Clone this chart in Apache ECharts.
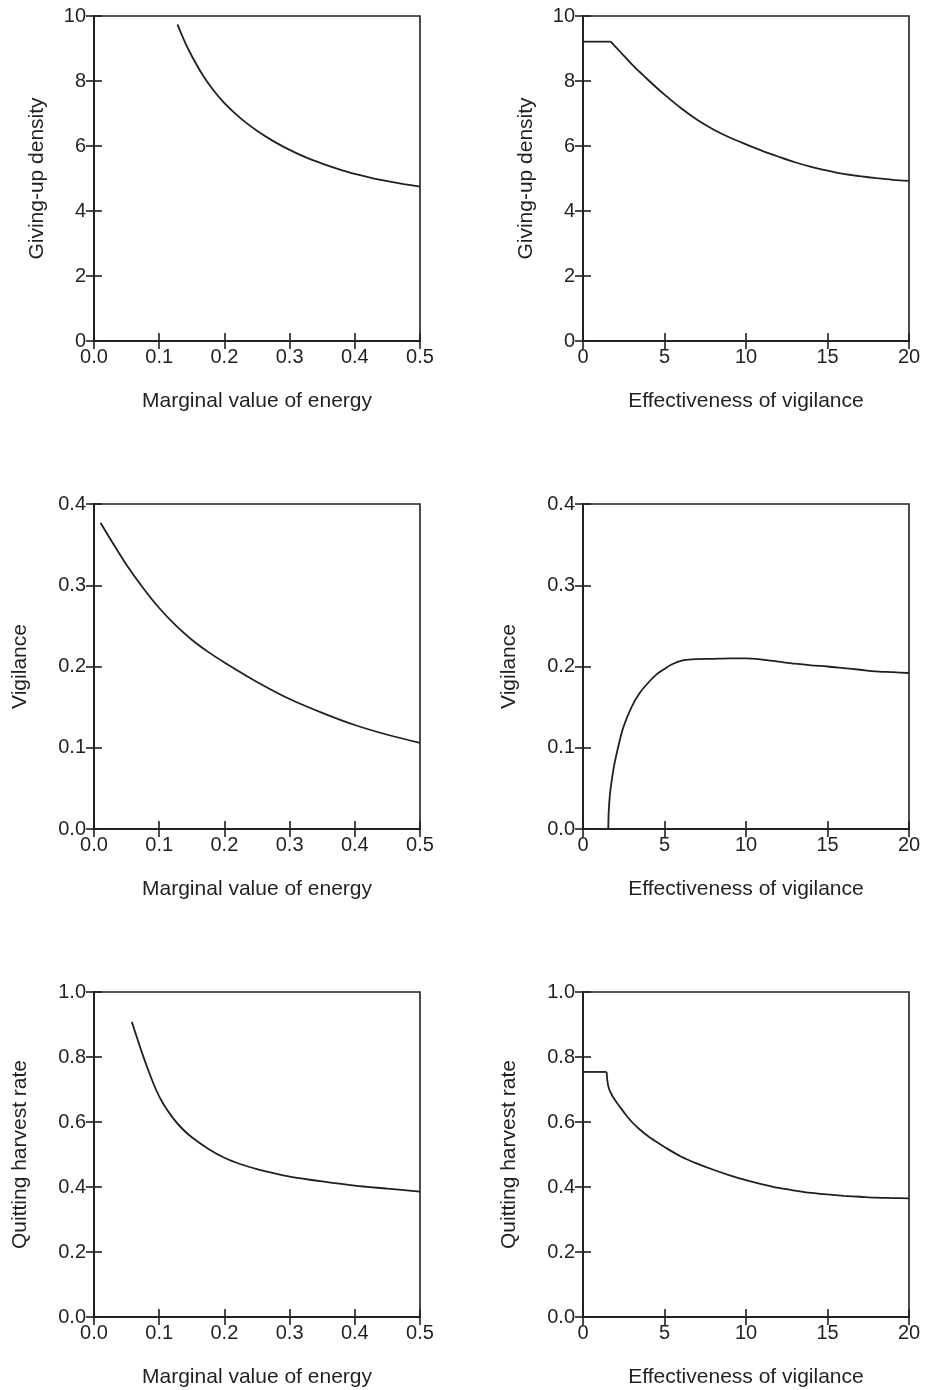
<!DOCTYPE html>
<html>
<head>
<meta charset="utf-8">
<script src="https://cdn.jsdelivr.net/npm/echarts@6/dist/echarts.min.js"></script>
<style>
html,body{margin:0;padding:0;background:#fff;}
#chart{width:926px;height:1390px;}
</style>
</head>
<body>
<div id="chart"></div>
<script>
// ---- Data ----
const energyLabel = 'Marginal value of energy';
const vigLabel = 'Effectiveness of vigilance';

// Panel A: giving-up density vs marginal value of energy
const gudEnergyX = [0.128,0.14,0.15,0.165,0.18,0.2,0.225,0.25,0.275,0.3,0.325,0.35,0.375,0.4,0.425,0.45,0.475,0.5];
const gudEnergyY = [9.74,9.17,8.77,8.24,7.80,7.32,6.85,6.47,6.15,5.88,5.65,5.46,5.29,5.14,5.02,4.92,4.83,4.75];

// Panel B: giving-up density vs effectiveness of vigilance (plateau, then curve)
const gudVigPlateauX = [0,1.7];
const gudVigPlateauY = [9.21,9.21];
const gudVigX = [1.7,2,2.5,3,3.5,4,4.5,5,6,7,8,9,10,11,12,13,14,15,16,17,18,19,20];
const gudVigY = [9.21,9.05,8.78,8.51,8.27,8.03,7.80,7.58,7.17,6.81,6.51,6.26,6.05,5.85,5.67,5.50,5.36,5.24,5.14,5.07,5.01,4.96,4.93];

// Panel C: vigilance vs marginal value of energy
const vigEnergyX = [0.01,0.025,0.05,0.075,0.1,0.125,0.15,0.175,0.2,0.25,0.3,0.35,0.4,0.45,0.5];
const vigEnergyY = [0.377,0.357,0.325,0.297,0.272,0.251,0.233,0.218,0.205,0.181,0.160,0.143,0.128,0.116,0.106];

// Panel D: vigilance vs effectiveness of vigilance
const vigVigX = [1.55,1.58,1.65,1.75,1.9,2.1,2.47,3.0,3.5,4.0,4.5,5.0,5.5,6.0,6.5,7,8,9,10,11,12,13,14,15,16,17,18,19,20];
const vigVigY = [0.0,0.022,0.042,0.058,0.077,0.096,0.125,0.151,0.168,0.180,0.190,0.197,0.203,0.207,0.2085,0.209,0.2095,0.210,0.210,0.2085,0.206,0.2035,0.2015,0.200,0.198,0.196,0.194,0.193,0.192];

// Panel E: quitting harvest rate vs marginal value of energy
const qhrEnergyX = [0.058,0.065,0.075,0.085,0.095,0.105,0.12,0.135,0.15,0.175,0.2,0.225,0.25,0.275,0.3,0.35,0.4,0.45,0.5];
const qhrEnergyY = [0.908,0.865,0.805,0.750,0.700,0.660,0.615,0.580,0.553,0.518,0.490,0.470,0.455,0.443,0.432,0.417,0.404,0.395,0.386];

// Panel F: quitting harvest rate vs effectiveness of vigilance (plateau, then curve)
const qhrVigPlateauX = [0,1.45];
const qhrVigPlateauY = [0.754,0.754];
const qhrVigX = [1.45,1.5,1.58,1.7,1.9,2.2,2.6,3.0,3.5,4.0,4.5,5.0,6,7,8,9,10,11,12,13,14,15,16,17,18,19,20];
const qhrVigY = [0.754,0.725,0.705,0.690,0.672,0.651,0.624,0.600,0.576,0.556,0.539,0.523,0.494,0.472,0.453,0.436,0.421,0.408,0.397,0.389,0.382,0.377,0.373,0.370,0.367,0.366,0.365];

const panels = [
  {curves: [[gudEnergyX, gudEnergyY, true]], xName: energyLabel, yName: 'Giving-up density', xMax: 0.5, xInt: 0.1, yMax: 10, yInt: 2, xDec: 1, yDec: 0, yGap: 46},
  {curves: [[gudVigPlateauX, gudVigPlateauY, false], [gudVigX, gudVigY, true]], xName: vigLabel, yName: 'Giving-up density', xMax: 20, xInt: 5, yMax: 10, yInt: 2, xDec: 0, yDec: 0, yGap: 46},
  {curves: [[vigEnergyX, vigEnergyY, true]], xName: energyLabel, yName: 'Vigilance', xMax: 0.5, xInt: 0.1, yMax: 0.4, yInt: 0.1, xDec: 1, yDec: 1, yGap: 63},
  {curves: [[vigVigX, vigVigY, true]], xName: vigLabel, yName: 'Vigilance', xMax: 20, xInt: 5, yMax: 0.4, yInt: 0.1, xDec: 0, yDec: 1, yGap: 63},
  {curves: [[qhrEnergyX, qhrEnergyY, true]], xName: energyLabel, yName: 'Quitting harvest rate', xMax: 0.5, xInt: 0.1, yMax: 1.0, yInt: 0.2, xDec: 1, yDec: 1, yGap: 63},
  {curves: [[qhrVigPlateauX, qhrVigPlateauY, false], [qhrVigX, qhrVigY, true]], xName: vigLabel, yName: 'Quitting harvest rate', xMax: 20, xInt: 5, yMax: 1.0, yInt: 0.2, xDec: 0, yDec: 1, yGap: 63}
];

const gridLefts = [94, 583];
const gridTops = [16, 504, 992];
const gridW = 326, gridH = 325;
const ink = '#231f20';
const font = 'Liberation Sans, Arial, Helvetica, sans-serif';

const grid = [], xAxis = [], yAxis = [], series = [];
panels.forEach((p, i) => {
  const col = i % 2, row = Math.floor(i / 2);
  grid.push({left: gridLefts[col], top: gridTops[row], width: gridW, height: gridH, show: true, borderColor: ink, borderWidth: 1.6, backgroundColor: 'transparent'});
  const tick = {show: true, inside: true, length: 8, lineStyle: {color: ink, width: 1.6}};
  const xFmt = v => v.toFixed(p.xDec);
  const yFmt = v => v.toFixed(p.yDec);
  xAxis.push({type: 'value', gridIndex: i, min: 0, max: p.xMax, interval: p.xInt, position: 'bottom',
    axisLine: {show: true, lineStyle: {color: ink, width: 1.6}}, axisTick: tick,
    axisLabel: {color: ink, fontSize: 20, fontFamily: font, margin: 6, formatter: xFmt},
    splitLine: {show: false},
    name: p.xName, nameLocation: 'middle', nameGap: 50,
    nameTextStyle: {color: ink, fontSize: 21, fontFamily: font}});
  xAxis.push({type: 'value', gridIndex: i, min: 0, max: p.xMax, interval: p.xInt, position: 'top',
    axisLine: {show: true, lineStyle: {color: ink, width: 1.6}}, axisTick: tick,
    axisLabel: {show: false}, splitLine: {show: false}});
  yAxis.push({type: 'value', gridIndex: i, min: 0, max: p.yMax, interval: p.yInt, position: 'left',
    axisLine: {show: true, lineStyle: {color: ink, width: 1.6}}, axisTick: tick,
    axisLabel: {color: ink, fontSize: 20, fontFamily: font, margin: 8, formatter: yFmt},
    splitLine: {show: false},
    name: p.yName, nameLocation: 'middle', nameGap: p.yGap, nameRotate: 90,
    nameTextStyle: {color: ink, fontSize: 21, fontFamily: font}});
  yAxis.push({type: 'value', gridIndex: i, min: 0, max: p.yMax, interval: p.yInt, position: 'right',
    axisLine: {show: true, lineStyle: {color: ink, width: 1.6}}, axisTick: tick,
    axisLabel: {show: false}, splitLine: {show: false}});
  p.curves.forEach(([xs, ys, sm]) => {
    series.push({type: 'line', xAxisIndex: 2 * i, yAxisIndex: 2 * i,
      data: xs.map((x, k) => [x, ys[k]]),
      smooth: sm ? 0.3 : false, showSymbol: false, symbol: 'none',
      lineStyle: {color: ink, width: 1.8}, clip: true, silent: true, animation: false});
  });
});

const chart = echarts.init(document.getElementById('chart'), null, {renderer: 'canvas'});
chart.setOption({animation: false, backgroundColor: '#fff', grid, xAxis, yAxis, series});
</script>
</body>
</html>
